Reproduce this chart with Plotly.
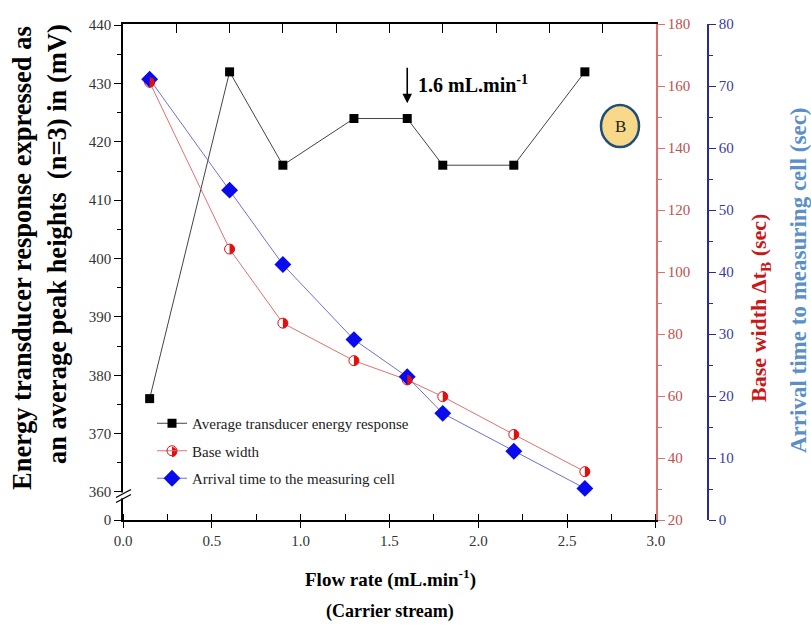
import plotly.graph_objects as go

# Flow-rate optimisation data (carrier stream)
flow_rate = [0.15, 0.6, 0.9, 1.3, 1.6, 1.8, 2.2, 2.6]
energy_response = [376, 432, 416, 424, 424, 416, 416, 432]      # mV, n=3
base_width = [161.2, 107.4, 83.5, 71.4, 65.2, 59.8, 47.6, 35.6]  # sec
arrival_time = [71.1, 53.2, 41.2, 29.1, 23.1, 17.2, 11.1, 5.1]   # sec

left_major = [360, 370, 380, 390, 400, 410, 420, 430, 440]
left_minor = [365, 375, 385, 395, 405, 415, 425, 435]
x_major = [0.0, 0.5, 1.0, 1.5, 2.0, 2.5, 3.0]

SERIF = "Liberation Serif, Times New Roman, serif"
RED_LINE = "#e07070"
RED_MARK = "#e01010"
NAVY = "#2b2b8f"
LIGHT_BLUE = "#5b8fc8"

LEFT_MIN, LEFT_MAX = 355.2, 440.2
X_DOMAIN = [0, 0.911]

# plot-area geometry in pixels (used to place free text)
PLOT_L, PLOT_R, PLOT_T, PLOT_B = 123, 708, 24, 520
PW, PH = PLOT_R - PLOT_L, PLOT_B - PLOT_T


def px(xpix):
    return (xpix - PLOT_L) / PW


def py(ypix):
    return (PLOT_B - ypix) / PH


fig = go.Figure()

fig.add_trace(go.Scatter(
    x=flow_rate, y=energy_response, mode="lines+markers",
    name="Average transducer energy response",
    line=dict(color="#444444", width=1),
    marker=dict(symbol="square", size=9, color="black"),
    legendgroup="a", xaxis="x", yaxis="y",
))
# legend entry for the base width (hollow so the half fill shows through)
fig.add_trace(go.Scatter(
    x=[None], y=[None], mode="lines+markers", name="Base width",
    line=dict(color=RED_LINE, width=1),
    marker=dict(symbol="circle", size=10, color="rgba(255,255,255,0)",
                line=dict(color=RED_MARK, width=1)),
    legendgroup="b", xaxis="x", yaxis="y2",
))
fig.add_trace(go.Scatter(
    x=flow_rate, y=base_width, mode="lines+markers",
    name="Base width", showlegend=False,
    line=dict(color=RED_LINE, width=1),
    marker=dict(symbol="circle", size=10, color="white",
                line=dict(color=RED_MARK, width=1)),
    legendgroup="b", xaxis="x", yaxis="y2",
))
fig.add_trace(go.Scatter(
    x=flow_rate, y=arrival_time, mode="lines+markers",
    name="Arrival time to the measuring cell",
    line=dict(color="#6f6fd6", width=1),
    marker=dict(symbol="diamond", size=13, color="#0a0aee"),
    legendgroup="c", xaxis="x", yaxis="y3",
))
# carrier for the top mirror axis
fig.add_trace(go.Scatter(
    x=[0, 3], y=[LEFT_MIN, LEFT_MIN], mode="lines", opacity=0,
    showlegend=False, hoverinfo="skip", xaxis="x2", yaxis="y",
))

shapes = []
# right half of each base-width marker filled red
half = "M 0,-5 C 2.76,-5 5,-2.76 5,0 C 5,2.76 2.76,5 0,5 Z"
left_half = "M 0,-5 C -2.76,-5 -5,-2.76 -5,0 C -5,2.76 -2.76,5 0,5 Z"
for xv, yv in zip(flow_rate, base_width):
    shapes.append(dict(type="path", xref="x", yref="y2",
                       xsizemode="pixel", ysizemode="pixel",
                       xanchor=xv, yanchor=yv, path=half,
                       fillcolor=RED_MARK, line=dict(width=0), layer="above"))
# same half fill under the legend symbol
for path, col in ((half, RED_MARK), (left_half, "white")):
    shapes.append(dict(type="path", xref="paper", yref="paper",
                       xsizemode="pixel", ysizemode="pixel",
                       xanchor=px(172), yanchor=py(452), path=path,
                       fillcolor=col, line=dict(width=0), layer="above"))

# axis break on the left axis
shapes.append(dict(type="rect", xref="paper", yref="y", xsizemode="pixel",
                   ysizemode="pixel", xanchor=0, yanchor=359.4,
                   x0=-2, x1=2, y0=-3, y1=3, fillcolor="white",
                   line=dict(width=0), layer="above"))
for dy in (0, -5):
    shapes.append(dict(type="line", xref="paper", yref="y", xsizemode="pixel",
                       ysizemode="pixel", xanchor=0, yanchor=359.4,
                       x0=-7, x1=8, y0=-2 + dy, y1=6 + dy,
                       line=dict(color="black", width=1.3), layer="above"))

# panel label
shapes.append(dict(type="circle", xref="paper", yref="paper",
                   xsizemode="pixel", ysizemode="pixel",
                   xanchor=px(620), yanchor=py(126),
                   x0=-19, x1=19, y0=-21, y1=21,
                   fillcolor="#f8d98a", line=dict(color="#1f4e79", width=2.5)))


def note(text, x, y, size, color="black", angle=0, **kw):
    d = dict(text=text, x=x, y=y, xref="paper", yref="paper", showarrow=False,
             xanchor="center", yanchor="middle", textangle=angle,
             font=dict(family=SERIF, size=size, color=color))
    d.update(kw)
    return d


annotations = [
    note("B", px(620), py(127), 17, "#222"),
    dict(text="", x=1.6, y=426.6, xref="x", yref="y", showarrow=True,
         ax=0, ay=-37, arrowhead=2, arrowsize=1.2, arrowwidth=1.6,
         arrowcolor="black"),
    dict(text="<b>1.6 mL.min<sup>-1</sup></b>", x=1.6, y=430.0,
         xref="x", yref="y", xshift=9, xanchor="left", yanchor="middle",
         showarrow=False, font=dict(family=SERIF, size=20, color="black")),
    note("<b>Energy transducer response expressed as</b>", px(22), py(258), 26.5, angle=-90),
    note("<b>an average peak heights  (n=3) in (mV)</b>", px(57), py(244), 26.5, angle=-90),
    note("<b>Base width Δt<sub>B</sub> (sec)</b>", px(760), py(308), 22, "#c81818", angle=-90),
    note("<b>Arrival time to measuring cell (sec)</b>", px(798), py(280), 23, LIGHT_BLUE, angle=-90),
    note("<b>Flow rate (mL.min<sup>-1</sup>)</b>", px(390), py(578), 19),
    note("<b>(Carrier stream)</b>", px(390), py(611), 18),
]

fig.update_layout(
    width=811, height=630,
    margin=dict(l=PLOT_L, r=811 - PLOT_R, t=PLOT_T, b=630 - PLOT_B),
    paper_bgcolor="white", plot_bgcolor="white",
    font=dict(family=SERIF, size=15, color="#333"),
    showlegend=True,
    legend=dict(x=px(152), y=py(407), xanchor="left", yanchor="top",
                bgcolor="rgba(0,0,0,0)", font=dict(family=SERIF, size=15, color="#222"),
                tracegroupgap=5, itemwidth=30),
    xaxis=dict(domain=X_DOMAIN, range=[0, 3], tickvals=x_major,
               ticktext=[f"{v:.1f}" for v in x_major],
               ticks="outside", ticklen=6, tickcolor="black",
               minor=dict(dtick=0.25, tick0=0, ticks="inside", ticklen=6, tickcolor="black"),
               showline=True, linecolor="black", linewidth=1.5,
               showgrid=False, zeroline=False, anchor="y",
               tickfont=dict(family=SERIF, size=15, color="#333")),
    xaxis2=dict(domain=X_DOMAIN, range=[0, 3], overlaying="x", side="top",
                tick0=0, dtick=0.3, ticks="inside", ticklen=9, tickcolor="black",
                showticklabels=False, showline=True, linecolor="black",
                linewidth=1.5, showgrid=False, zeroline=False, anchor="y"),
    yaxis=dict(range=[LEFT_MIN, LEFT_MAX],
               tickvals=[LEFT_MIN] + left_major,
               ticktext=["0"] + [str(v) for v in left_major],
               ticks="outside", ticklen=7, tickcolor="black",
               minor=dict(tickvals=left_minor, ticks="outside", ticklen=4, tickcolor="black"),
               showline=True, linecolor="black", linewidth=1.5,
               showgrid=False, zeroline=False,
               tickfont=dict(family=SERIF, size=15, color="#333")),
    yaxis2=dict(range=[20, 180], tick0=20, dtick=20, overlaying="y",
                side="right", anchor="x",
                ticks="outside", ticklen=7, tickcolor=RED_LINE,
                minor=dict(dtick=10, tick0=0, ticks="outside", ticklen=4, tickcolor=RED_LINE),
                showline=True, linecolor=RED_LINE, linewidth=1.5,
                showgrid=False, zeroline=False,
                tickfont=dict(family=SERIF, size=15, color="#c0504d")),
    yaxis3=dict(range=[0, 80], tick0=0, dtick=10, overlaying="y",
                side="right", anchor="free", position=1.0,
                ticks="outside", ticklen=7, tickcolor=NAVY,
                minor=dict(dtick=5, tick0=0, ticks="outside", ticklen=4, tickcolor=NAVY),
                showline=True, linecolor=NAVY, linewidth=1.5,
                showgrid=False, zeroline=False,
                tickfont=dict(family=SERIF, size=15, color="#3b3b99")),
    shapes=shapes,
    annotations=annotations,
)

fig.write_html("out.html")
